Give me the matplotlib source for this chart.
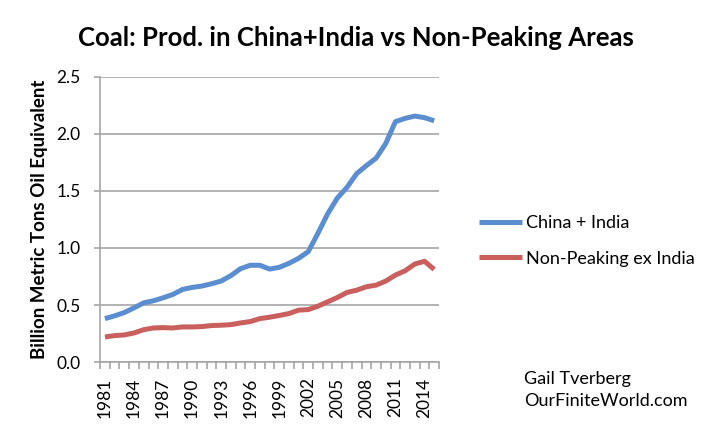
import numpy as np
import matplotlib
matplotlib.use("Agg")
import matplotlib.pyplot as plt

# Data (billion metric tons oil equivalent)
years = list(range(1981, 2016))
china_india = [0.381, 0.405, 0.434, 0.475, 0.519, 0.537, 0.563, 0.592, 0.636, 0.654,
               0.666, 0.686, 0.710, 0.757, 0.818, 0.848, 0.848, 0.815, 0.830, 0.865,
               0.909, 0.968, 1.129, 1.299, 1.437, 1.531, 1.651, 1.721, 1.786, 1.915,
               2.106, 2.135, 2.155, 2.141, 2.114]
non_peaking = [0.220, 0.232, 0.238, 0.255, 0.284, 0.299, 0.302, 0.299, 0.308, 0.308,
               0.311, 0.320, 0.323, 0.328, 0.343, 0.355, 0.381, 0.393, 0.408, 0.425,
               0.455, 0.460, 0.490, 0.528, 0.566, 0.610, 0.630, 0.660, 0.674, 0.710,
               0.762, 0.800, 0.859, 0.883, 0.812]
series_names = ["China + India", "Non-Peaking ex India"]
colors = ["#5B8ED0", "#C9605D"]

plt.rcParams['font.family'] = ['Lato', 'DejaVu Sans']

fig = plt.figure(figsize=(7.15, 4.26), dpi=100)
ax = fig.add_axes([0.140, 0.150, 0.474, 0.670])

idx = np.arange(len(years))
ax.plot(idx, china_india, color=colors[0], lw=3.6, label=series_names[0], solid_capstyle='butt')
ax.plot(idx, non_peaking, color=colors[1], lw=3.6, label=series_names[1], solid_capstyle='butt')

ax.set_xlim(-0.5, len(years) - 0.5)
ax.set_ylim(0, 2.5)
ax.set_yticks(np.arange(0, 2.51, 0.5))
ax.set_yticklabels(["%.1f" % v for v in np.arange(0, 2.51, 0.5)], fontsize=12.5)
ax.yaxis.grid(True, color="#A6A6A6", lw=1.2)
ax.set_axisbelow(True)

ax.set_xticks(idx[::3])
ax.set_xticklabels([str(y) for y in years[::3]], rotation=90, fontsize=12.5)
ax.set_xticks(np.arange(-0.5, len(years), 1), minor=True)
ax.tick_params(axis='x', which='major', length=0, pad=11)
ax.tick_params(axis='x', which='minor', length=5, color="#A6A6A6", width=1.2, direction='out')
ax.tick_params(axis='y', length=4, color="#A6A6A6", width=1.2, direction='out', pad=10)

for s in ["top", "right"]:
    ax.spines[s].set_visible(False)
for s in ["left", "bottom"]:
    ax.spines[s].set_color("#A6A6A6")
    ax.spines[s].set_linewidth(1.2)

ax.set_ylabel("Billion Metric Tons Oil Equivalent", fontsize=13.5, fontweight='bold', labelpad=6)

fig.suptitle("Coal: Prod. in China+India vs Non-Peaking Areas", fontsize=18.5,
             fontweight='bold', x=0.498, y=0.94)

ax.legend(loc='center left', bbox_to_anchor=(1.07, 0.425), frameon=False, fontsize=13,
          handlelength=2.4, handletextpad=0.2, labelspacing=1.1)

fig.text(0.733, 0.085, "Gail Tverberg\nOurFiniteWorld.com", fontsize=13,
         va='center', ha='left', linespacing=1.5)

fig.savefig("out.png", dpi=100)
